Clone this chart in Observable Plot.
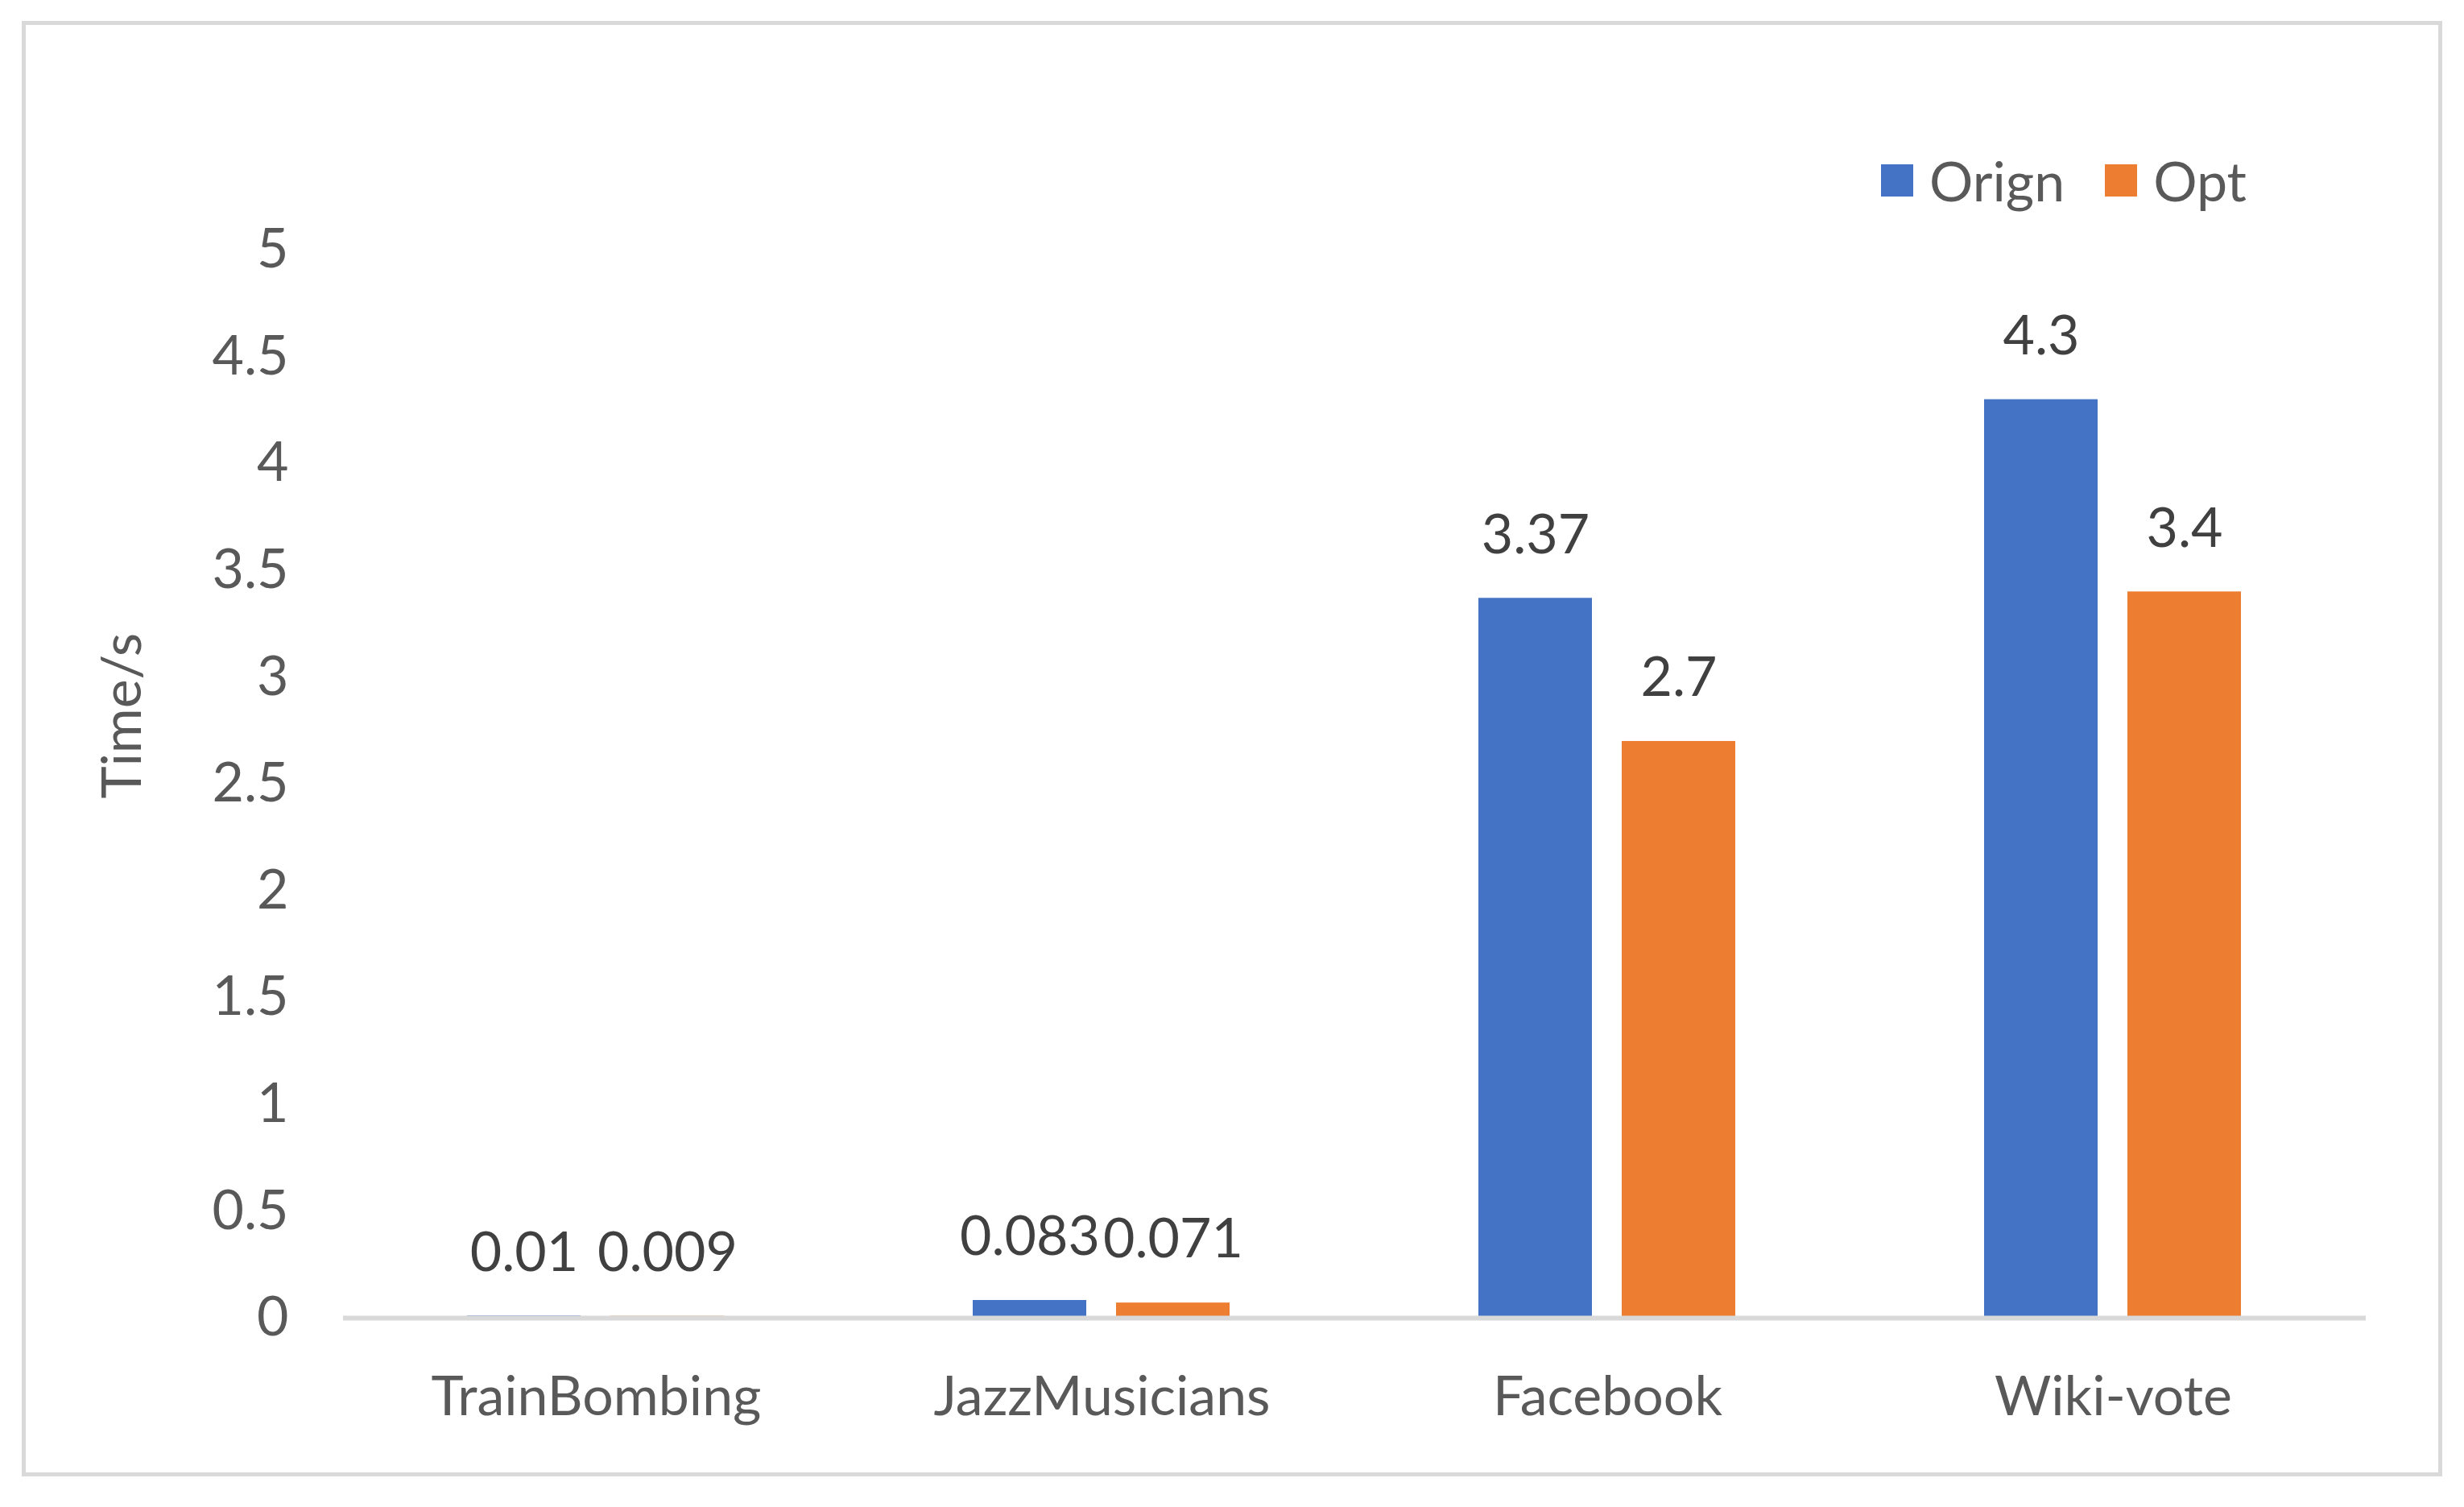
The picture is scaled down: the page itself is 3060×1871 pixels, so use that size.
<!DOCTYPE html>
<html>
<head>
<meta charset="utf-8">
<script src="https://cdn.jsdelivr.net/npm/d3@7"></script>
<script src="https://cdn.jsdelivr.net/npm/@observablehq/plot@0.6"></script>
<style>
  html, body { margin: 0; padding: 0; background: #ffffff; }
  #page { position: relative; width: 3060px; height: 1871px; background: #ffffff; overflow: hidden; }
  #frame { position: absolute; left: 27px; top: 26px; width: 2996px; height: 1797px; border: 5px solid #d9d9d9; pointer-events: none; }
  #legendRow { position: relative; height: 260px; box-sizing: border-box; padding-left: 2336px; padding-top: 191px; }
  #legendRow .lg-swatches { font-family: Lato, sans-serif; font-size: 68px; color: #595959; line-height: 66px; min-height: 0; margin: 0; }
  #legendRow .lg-swatch { margin-right: 50px !important; }
  #legendRow .lg-swatch > svg { margin-right: 20px !important; }
  #chart svg { display: block; }
</style>
</head>
<body>
<div id="page">
  <div id="frame"></div>
  <div id="legendRow"></div>
  <div id="chart"></div>
</div>
<script>
// ---- data ----
const categories = ["TrainBombing", "JazzMusicians", "Facebook", "Wiki-vote"];
const seriesNames = ["Orign", "Opt"];
const orignValues = [0.01, 0.083, 3.37, 4.3];
const optValues = [0.009, 0.071, 2.7, 3.4];
const seriesColors = ["#4472C4", "#ED7D31"];
const yTicks = [0, 0.5, 1, 1.5, 2, 2.5, 3, 3.5, 4, 4.5, 5];
const yTitle = "Time/s";

const rows = [];
categories.forEach((c, i) => {
  rows.push({cat: c, series: seriesNames[0], value: orignValues[i]});
  rows.push({cat: c, series: seriesNames[1], value: optValues[i]});
});

const FONT = "Lato, sans-serif";
const FS = 68;

// legend
const legend = Plot.legend({
  color: {domain: seriesNames, range: seriesColors},
  swatchSize: 40,
  className: "lg"
});
document.getElementById("legendRow").appendChild(legend);

const chart = Plot.plot({
  width: 3060,
  height: 1611,
  marginTop: 50,
  marginBottom: 235,
  marginLeft: 425,
  marginRight: 121,
  style: {fontFamily: FONT, fontSize: FS + "px", color: "#595959", background: "transparent"},
  fx: {domain: categories, padding: 0, label: null, tickSize: 0, tickPadding: 72, axis: "bottom"},
  x: {domain: seriesNames, axis: null, paddingInner: 0.2067, paddingOuter: 0.859},
  y: {domain: [0, 5], ticks: yTicks, tickSize: 0, tickPadding: 68, label: null, tickFormat: d => String(d)},
  color: {domain: seriesNames, range: seriesColors},
  marks: [
    Plot.barY(rows, {fx: "cat", x: "series", y: "value", fill: "series"}),
    Plot.ruleY([0], {stroke: "#d9d9d9", strokeWidth: 6}),
    Plot.text(rows, {fx: "cat", x: "series", y: "value", text: d => String(d.value), dy: -78, fill: "#404040", fontSize: FS, fontFamily: FONT}),
    Plot.text([yTitle], {fx: () => categories[0], text: d => d, frameAnchor: "left", rotate: -90, dx: -273, dy: 18, fill: "#595959", fontSize: FS, fontFamily: FONT})
  ]
});
document.getElementById("chart").appendChild(chart);
</script>
</body>
</html>
